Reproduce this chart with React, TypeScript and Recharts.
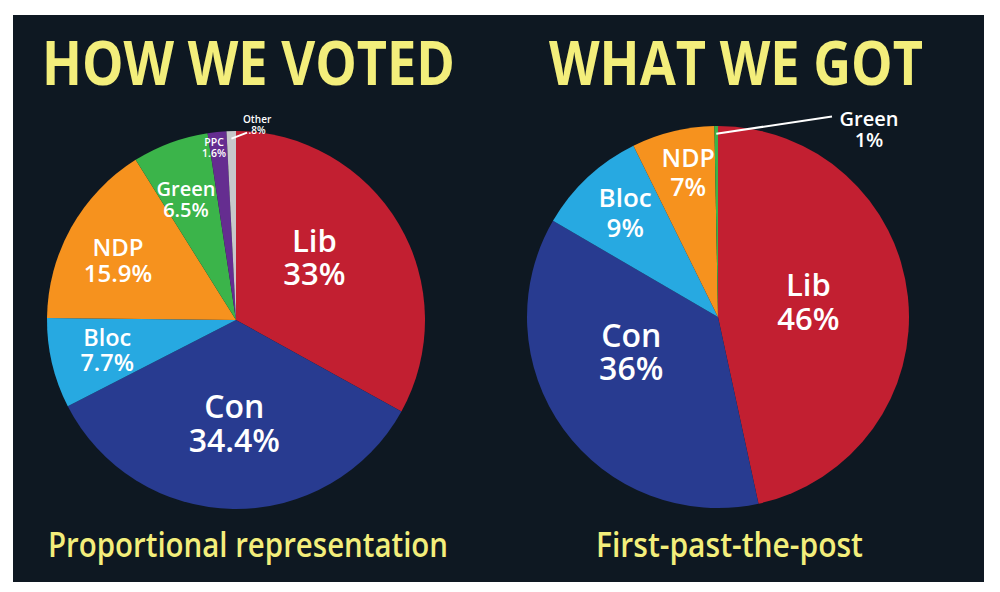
import { PieChart, Pie, Cell } from 'recharts'

// How we voted: popular vote share, clockwise from 12 o'clock
const VOTE_PARTIES = ['Lib', 'Con', 'Bloc', 'NDP', 'Green', 'PPC', 'Other']
const VOTE_SHARE = [33, 34.4, 7.7, 15.9, 6.5, 1.6, 0.8]
const VOTE_LABELS = ['33%', '34.4%', '7.7%', '15.9%', '6.5%', '1.6%', '.8%']

// What we got: seat share as drawn (the Green wedge is only a sliver)
const SEAT_PARTIES = ['Lib', 'Con', 'Bloc', 'NDP', 'Green']
const SEAT_SHARE = [46.6, 36.8, 9.3, 7.0, 0.3]
const SEAT_LABELS = ['46%', '36%', '9%', '7%', '1%']

const PARTY_COLORS: Record<string, string> = {
  Lib: '#c21f31',
  Con: '#283b90',
  Bloc: '#27a9e1',
  NDP: '#f6921e',
  Green: '#3bb44a',
  PPC: '#652d90',
  Other: '#c7c8ca',
}

const BG = '#0e1822'
const YELLOW = '#f3ee7b'
const FONT = '"Open Sans", "Noto Sans", sans-serif'

// label placement: [angle nudge (deg, clockwise), radius factor, font size, line gap, leader]
type Place = [number, number, number, number, boolean?]
const VOTE_PLACE: Place[] = [
  [-8, 0.53, 31, 33],
  [0, 0.55, 32, 34],
  [0, 0.7, 23.5, 25],
  [-2.4, 0.7, 24, 25.5],
  [-2.2, 0.69, 20, 21.5],
  [-1.5, 0.92, 10.5, 11.5],
  [7.6, 1.04, 10, 11, true],
]
const SEAT_PLACE: Place[] = [
  [-3.4, 0.48, 31, 34],
  [14, 0.49, 32, 33],
  [1.3, 0.73, 26, 30],
  [2, 0.77, 25, 29],
  [39.4, 1.26, 20, 21.5, true],
]

const RAD = Math.PI / 180

function makeLabel(names: string[], pcts: string[], place: Place[]) {
  return (props: any) => {
    const { cx, cy, midAngle, outerRadius, index } = props
    const [nudge, factor, size, gap, leader] = place[index]
    // recharts angles run counter-clockwise from 3 o'clock
    const a = (midAngle - nudge) * RAD
    const r = outerRadius * factor
    const x = cx + r * Math.cos(a)
    const y = cy - r * Math.sin(a)
    const b1 = y - (gap - 0.714 * size) / 2
    let line = null
    if (leader) {
      const m = midAngle * RAD
      const sx = cx + outerRadius * 0.96 * Math.cos(m)
      const sy = cy - outerRadius * 0.96 * Math.sin(m)
      const ex = index === 6 ? x - 10 : x - 37
      const ey = index === 6 ? y + 8 : y - 13
      line = <line x1={sx} y1={sy} x2={ex} y2={ey} stroke="#fff" strokeWidth={2} />
    }
    return (
      <g key={`l-${index}`}>
        {line}
        <text x={x} y={b1} textAnchor="middle" fill="#fff" fontFamily={FONT} fontWeight={600} fontSize={size}>
          <tspan x={x} y={b1}>{names[index]}</tspan>
          <tspan x={x} y={b1 + gap}>{pcts[index]}</tspan>
        </text>
      </g>
    )
  }
}

const voteData = VOTE_PARTIES.map((name, i) => ({ name, value: VOTE_SHARE[i] }))
const seatData = SEAT_PARTIES.map((name, i) => ({ name, value: SEAT_SHARE[i] }))

export default function App() {
  return (
    <div style={{ position: 'absolute', left: 0, top: 0, width: 1000, height: 592, background: '#fff' }}>
      <div style={{ position: 'absolute', left: 13, top: 15, width: 971, height: 567, background: BG }} />
      <svg width={1000} height={592} style={{ position: 'absolute', left: 0, top: 0 }}>
        <text x={42} y={85} fill={YELLOW} fontFamily={FONT} fontWeight={700} fontSize={60}
          textLength={413} lengthAdjust="spacingAndGlyphs">HOW WE VOTED</text>
        <text x={549} y={85} fill={YELLOW} fontFamily={FONT} fontWeight={700} fontSize={60}
          textLength={374} lengthAdjust="spacingAndGlyphs">WHAT WE GOT</text>
        <text x={48} y={557} fill={YELLOW} fontFamily={FONT} fontWeight={600} fontSize={35}
          textLength={400} lengthAdjust="spacingAndGlyphs">Proportional representation</text>
        <text x={596} y={557} fill={YELLOW} fontFamily={FONT} fontWeight={600} fontSize={35}
          textLength={267} lengthAdjust="spacingAndGlyphs">First-past-the-post</text>
      </svg>
      <div style={{ position: 'absolute', left: 0, top: 0 }}>
        <PieChart width={1000} height={592} margin={{ top: 0, right: 0, bottom: 0, left: 0 }}>
          <Pie
            data={voteData}
            dataKey="value"
            cx={236}
            cy={320}
            outerRadius={189}
            startAngle={90}
            endAngle={-270}
            stroke="none"
            isAnimationActive={false}
            labelLine={false}
            label={makeLabel(VOTE_PARTIES, VOTE_LABELS, VOTE_PLACE)}
          >
            {voteData.map((d) => (
              <Cell key={d.name} fill={PARTY_COLORS[d.name]} />
            ))}
          </Pie>
          <Pie
            data={seatData}
            dataKey="value"
            cx={718}
            cy={317}
            outerRadius={191}
            startAngle={90}
            endAngle={-270}
            stroke="none"
            isAnimationActive={false}
            labelLine={false}
            label={makeLabel(SEAT_PARTIES, SEAT_LABELS, SEAT_PLACE)}
          >
            {seatData.map((d) => (
              <Cell key={d.name} fill={PARTY_COLORS[d.name]} />
            ))}
          </Pie>
        </PieChart>
      </div>
    </div>
  )
}
